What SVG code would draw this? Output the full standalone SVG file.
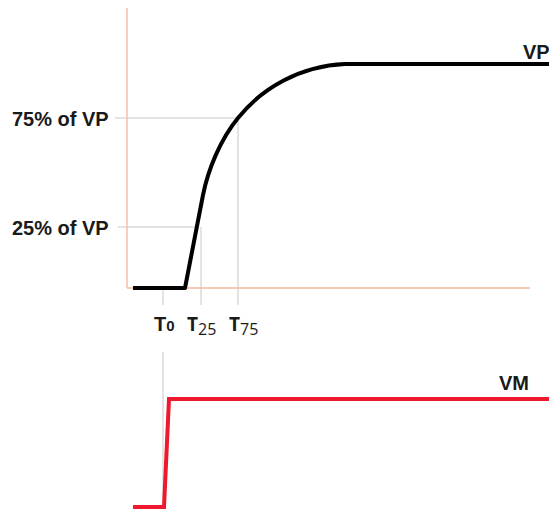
<svg xmlns="http://www.w3.org/2000/svg" width="549" height="509" viewBox="0 0 549 509">
<style>
.axis{stroke:#f7b49a;stroke-width:1.3;fill:none}
.guide{stroke:#c8c8c8;stroke-width:1;fill:none}
.lbl{font-family:"Liberation Sans",Arial,sans-serif;font-weight:bold;font-size:20px;fill:#1a1a1a}
.tl{font-family:"Open Sans","Liberation Sans",sans-serif;font-size:19px;fill:#1a1a1a}
</style>
<rect width="549" height="509" fill="#fff"/>
<g id="axes">
<line class="axis" x1="127" y1="8" x2="127" y2="288"/>
<line class="axis" x1="127" y1="288" x2="530" y2="288"/>
</g>
<g id="connectors">
<line class="guide" x1="115" y1="118" x2="238" y2="118"/>
<line class="guide" x1="118" y1="227" x2="197" y2="227"/>
<line class="guide" x1="163" y1="288" x2="163" y2="305"/>
<line class="guide" x1="201" y1="227" x2="201" y2="305"/>
<line class="guide" x1="238" y1="118" x2="238" y2="305"/>
<line class="guide" x1="163" y1="352" x2="163" y2="502"/>
</g>
<g id="vp-curve">
<path d="M133,288 L185,288 L203,195 C208,170 220,140 238,118 C262,88 300,66 345,64 L549,64" fill="none" stroke="#000" stroke-width="4" stroke-linejoin="round"/>
<text class="lbl" x="523" y="59" font-size="19">VP</text>
</g>
<g id="vm-curve">
<path d="M133,507 L164,507 L169,399 L549,399" fill="none" stroke="#f0182e" stroke-width="4"/>
<text class="lbl" x="499" y="390" font-size="19">VM</text>
</g>
<g id="labels">
<text class="lbl" x="12" y="126">75% of VP</text>
<text class="lbl" x="12" y="235">25% of VP</text>
<text class="lbl" x="154" y="331" font-size="19">T<tspan font-size="15">0</tspan></text>
<text class="tl" x="187" y="331" font-weight="bold">T<tspan font-weight="normal" font-size="16" dy="4">25</tspan></text>
<text class="tl" x="229" y="331" font-weight="bold">T<tspan font-weight="normal" font-size="16" dy="4">75</tspan></text>
</g>
</svg>
